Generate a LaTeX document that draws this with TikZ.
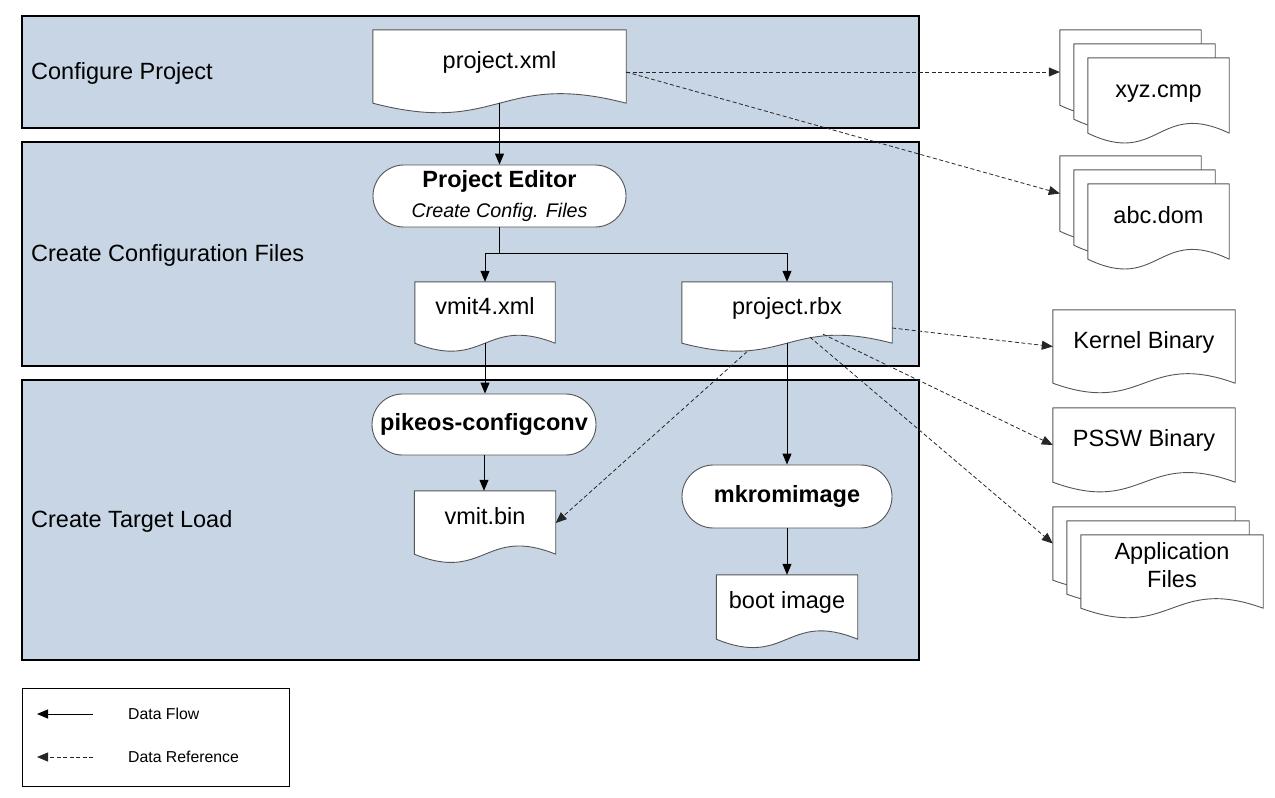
\documentclass[tikz,border=0pt]{standalone}
\usepackage{fontspec}
\setmainfont{Liberation Sans}
\usetikzlibrary{arrows.meta,calc,shapes.misc}
\pgfdeclarelayer{back}
\pgfdeclarelayer{mid}
\pgfsetlayers{back,mid,main}
\newcommand\fmain{\fontsize{23.5}{28}\selectfont}
\newcommand\fsub{\fontsize{19.7}{24}\selectfont}
\newcommand\fleg{\fontsize{15.8}{19}\selectfont}
\definecolor{panelfill}{RGB}{200,213,228}
\definecolor{docline}{RGB}{85,85,85}
\newcommand\docwave[1]{%
  \filldraw[fill=white, draw=docline, line width=0.9pt, line join=round]
   (#1.north west) -- (#1.north east) -- (#1.south east)
   .. controls ($(#1.south)!0.45!(#1.north)$) and ($(#1.south)!-0.45!(#1.north)$) .. (#1.south west) -- cycle;}
\tikzset{
  docshape/.style={rectangle, inner sep=0pt, font=\fmain, align=center,
    append after command={\pgfextra{\begin{pgfonlayer}{mid}\docwave{\tikzlastnode}\end{pgfonlayer}}}},
  doc/.style={docshape, text height=17pt, text depth=14pt},
  term/.style={rounded rectangle, draw=docline, fill=white, line width=0.9pt, inner sep=0pt,
    font=\fmain\bfseries, align=center},
  panel/.style={fill=panelfill, draw=black, line width=1.1pt},
  plabel/.style={anchor=west, font=\fmain, inner sep=0pt},
  flow/.style={draw=black, line width=1pt, -{Triangle[length=11pt,width=9pt]}},
  dref/.style={draw=black!85, line width=0.8pt, dash pattern=on 4pt off 2.5pt,
    -{Triangle[length=11pt,width=9pt]}},
}
\begin{document}
\begin{tikzpicture}[x=1pt,y=-1pt]
\useasboundingbox (0,0) rectangle (1275,798);

% panels
\begin{pgfonlayer}{back}
\path[panel] (22,16) rectangle (919,128);
\path[panel] (22,142) rectangle (919,366);
\path[panel] (22,380) rectangle (919,660);
\end{pgfonlayer}
\node[plabel] (l1) at (31,73) {Configure Project};
\node[plabel] (l2) at (31,255) {Create Configuration Files};
\node[plabel] (l3) at (31,521) {Create Target Load};

% main flow
\node[doc, minimum width=253, minimum height=73] (pxml) at (499.5,66.5) {project.xml};
\node[term, minimum width=253, minimum height=62] (pedit) at (499.5,196)
  {Project Editor\\[2pt]{\fsub\mdseries\itshape Create Config. Files}};
\node[doc, minimum width=140, minimum height=61] (vmit4) at (485,312.5) {vmit4.xml};
\node[doc, minimum width=210, minimum height=61] (rbx) at (787,312.5) {project.rbx};
\node[term, minimum width=224, minimum height=61] (pconv) at (484,424.5) {pikeos-configconv};
\node[doc, minimum width=141, minimum height=63] (vmitbin) at (485,522.5) {vmit.bin};
\node[term, minimum width=210, minimum height=63] (mkrom) at (787,496.5) {mkromimage};
\node[doc, minimum width=141, minimum height=64] (boot) at (787,607) {boot image};

% right side
\node[doc, minimum width=141, minimum height=75] (xyzA) at (1130.5,67.5) {};
\node[doc, minimum width=141, minimum height=75] (xyzB) at (1144.5,81.5) {};
\node[doc, minimum width=141, minimum height=75] (xyzC) at (1158.5,95.5) {xyz.cmp};
\node[doc, minimum width=141, minimum height=75] (abcA) at (1130.5,193.5) {};
\node[doc, minimum width=141, minimum height=75] (abcB) at (1144.5,207.5) {};
\node[doc, minimum width=141, minimum height=75] (abcC) at (1158.5,221.5) {abc.dom};
\node[doc, minimum width=182, minimum height=73] (kern) at (1144,346.5) {Kernel Binary};
\node[doc, minimum width=182, minimum height=74] (pssw) at (1144,445) {PSSW Binary};
\node[doc, minimum width=182, minimum height=73] (appA) at (1144,543.5) {};
\node[doc, minimum width=182, minimum height=73] (appB) at (1158,557.5) {};
\node[docshape, minimum width=182, minimum height=73] (appC) at (1172,571.5) {};
\node[font=\fmain, align=center, inner sep=0pt] (appT) at (1172,565) {Application\\Files};

% solid connectors
\draw[flow] (pxml.south) -- (pedit.north);
\draw[flow] (pedit.south) -- ++(0,26) -| (vmit4.north);
\draw[flow] (pedit.south) -- ++(0,26) -| (rbx.north);
\draw[flow] (vmit4.south) -- (vmit4.south |- pconv.north);
\draw[flow] (pconv.south) -- (pconv.south |- vmitbin.north);
\draw[flow] (rbx.south) -- (mkrom.north);
\draw[flow] (mkrom.south) -- (boot.north);

% dashed references
\coordinate (pxo) at ($(pxml.east)+(0,5.5)$);
\draw[dref] (pxo) -- (pxo -| xyzA.west);
\draw[dref] (pxo) -- (abcA.west);
\coordinate (rk) at ($(rbx.east)+(0,15.5)$);
\draw[dref] (rk) -- (kern.west);
\coordinate (rp) at ($(rbx.south)+(36,-9)$);
\draw[dref] (rp) -- (pssw.west);
\coordinate (ra) at ($(rbx.south)+(23,-6)$);
\draw[dref] (ra) -- (appA.west);
\coordinate (rv) at ($(rbx.south)+(-40,8.5)$);
\draw[dref] (rv) -- ($(vmitbin.east)+(0,0.5)$);

% legend
\draw[black, line width=1pt] (22,688) rectangle (289,786);
\coordinate (lf1) at (93,714);
\coordinate (lf2) at (37,714);
\coordinate (lr1) at (93,757);
\coordinate (lr2) at (37,757);
\draw[flow] (lf1) -- (lf2);
\draw[dref] (lr1) -- (lr2);
\node[anchor=west, font=\fleg, inner sep=0pt] (lt1) at (128,714) {Data Flow};
\node[anchor=west, font=\fleg, inner sep=0pt] (lt2) at (128,757) {Data Reference};
\end{tikzpicture}
\end{document}
